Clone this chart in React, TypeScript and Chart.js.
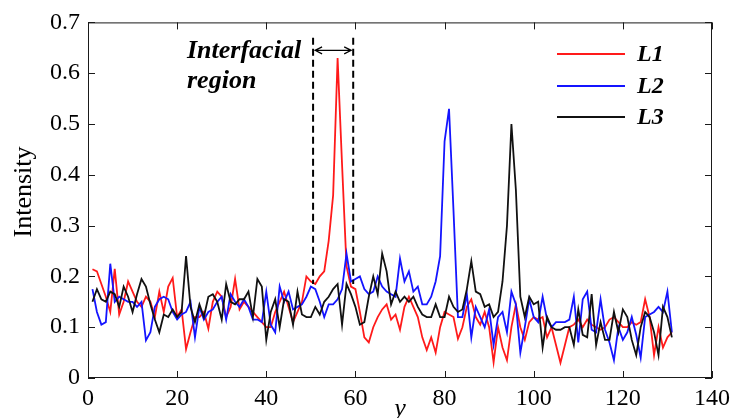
import React, { useEffect, useRef } from "react";
import { Chart, registerables } from "chart.js";

Chart.register(...registerables);

const positions = [
  1, 2, 3, 4, 5, 6, 7, 8, 9, 10, 11, 12, 13, 14, 15, 16, 17, 18, 19, 20,
  21, 22, 23, 24, 25, 26, 27, 28, 29, 30, 31, 32, 33, 34, 35, 36, 37, 38, 39, 40,
  41, 42, 43, 44, 45, 46, 47, 48, 49, 50, 51, 52, 53, 54, 55, 56, 57, 58, 59, 60,
  61, 62, 63, 64, 65, 66, 67, 68, 69, 70, 71, 72, 73, 74, 75, 76, 77, 78, 79, 80,
  81, 82, 83, 84, 85, 86, 87, 88, 89, 90, 91, 92, 93, 94, 95, 96, 97, 98, 99, 100,
  101, 102, 103, 104, 105, 106, 107, 108, 109, 110, 111, 112, 113, 114, 115, 116, 117, 118, 119, 120,
  121, 122, 123, 124, 125, 126, 127, 128, 129, 130, 131,
];

const L1 = [
  0.214, 0.21, 0.185, 0.16, 0.13, 0.215, 0.125, 0.15, 0.19, 0.17,
  0.15, 0.14, 0.16, 0.15, 0.12, 0.17, 0.13, 0.18, 0.197, 0.12,
  0.135, 0.057, 0.09, 0.12, 0.12, 0.13, 0.097, 0.15, 0.17, 0.16,
  0.12, 0.14, 0.195, 0.135, 0.15, 0.14, 0.13, 0.12, 0.11, 0.1,
  0.1, 0.13, 0.15, 0.17, 0.14, 0.11, 0.13, 0.15, 0.2, 0.19,
  0.185, 0.2, 0.21, 0.27, 0.36, 0.63, 0.42, 0.22, 0.18, 0.175,
  0.13, 0.08, 0.07, 0.1, 0.12, 0.135, 0.145, 0.115, 0.125, 0.095,
  0.14, 0.16, 0.14, 0.12, 0.08, 0.055, 0.08, 0.05, 0.1, 0.13,
  0.125, 0.12, 0.077, 0.1, 0.14, 0.155, 0.12, 0.105, 0.13, 0.1,
  0.031, 0.1, 0.06, 0.035, 0.1, 0.145, 0.1, 0.075, 0.11, 0.12,
  0.115, 0.12, 0.08, 0.1, 0.065, 0.03, 0.065, 0.1, 0.105, 0.115,
  0.1, 0.115, 0.105, 0.1, 0.095, 0.1, 0.115, 0.12, 0.11, 0.1,
  0.1, 0.11, 0.105, 0.11, 0.155, 0.12, 0.045, 0.1, 0.06, 0.08, 0.09,
];

const L2 = [
  0.175, 0.13, 0.105, 0.11, 0.225, 0.15, 0.16, 0.155, 0.15, 0.15,
  0.14, 0.15, 0.074, 0.09, 0.14, 0.155, 0.16, 0.155, 0.13, 0.115,
  0.125, 0.13, 0.15, 0.08, 0.14, 0.115, 0.13, 0.135, 0.15, 0.16,
  0.115, 0.165, 0.15, 0.14, 0.155, 0.14, 0.115, 0.115, 0.11, 0.17,
  0.105, 0.09, 0.18, 0.15, 0.17, 0.135, 0.14, 0.145, 0.16, 0.18,
  0.175, 0.15, 0.12, 0.145, 0.145, 0.155, 0.175, 0.245, 0.19, 0.195,
  0.2, 0.175, 0.165, 0.17, 0.2, 0.18, 0.17, 0.165, 0.16, 0.235,
  0.19, 0.21, 0.17, 0.18, 0.145, 0.145, 0.16, 0.19, 0.24, 0.466,
  0.53, 0.33, 0.12, 0.12, 0.165, 0.08, 0.14, 0.12, 0.1, 0.135,
  0.065, 0.12, 0.13, 0.09, 0.17, 0.145, 0.05, 0.1, 0.155, 0.12,
  0.11, 0.16, 0.115, 0.1, 0.11, 0.11, 0.11, 0.115, 0.16, 0.07,
  0.155, 0.17, 0.095, 0.09, 0.155, 0.095, 0.07, 0.035, 0.1, 0.075,
  0.09, 0.12, 0.085, 0.04, 0.12, 0.125, 0.13, 0.14, 0.13, 0.17, 0.09,
];

const L3 = [
  0.15, 0.175, 0.155, 0.15, 0.17, 0.165, 0.14, 0.18, 0.16, 0.13,
  0.165, 0.195, 0.18, 0.145, 0.115, 0.09, 0.125, 0.12, 0.135, 0.12,
  0.13, 0.24, 0.14, 0.11, 0.145, 0.12, 0.16, 0.165, 0.15, 0.115,
  0.185, 0.15, 0.145, 0.155, 0.155, 0.17, 0.12, 0.195, 0.18, 0.075,
  0.13, 0.155, 0.1, 0.155, 0.15, 0.105, 0.17, 0.125, 0.12, 0.12,
  0.14, 0.125, 0.15, 0.16, 0.175, 0.185, 0.105, 0.185, 0.165, 0.14,
  0.105, 0.11, 0.16, 0.2, 0.165, 0.245, 0.21, 0.145, 0.17, 0.15,
  0.16, 0.15, 0.16, 0.14, 0.125, 0.12, 0.12, 0.145, 0.12, 0.12,
  0.16, 0.14, 0.13, 0.135, 0.175, 0.23, 0.17, 0.165, 0.14, 0.145,
  0.12, 0.13, 0.19, 0.3, 0.5, 0.37, 0.16, 0.12, 0.16, 0.145,
  0.15, 0.06, 0.12, 0.1, 0.095, 0.095, 0.1, 0.1, 0.065, 0.135,
  0.085, 0.08, 0.165, 0.065, 0.11, 0.075, 0.075, 0.13, 0.09, 0.135,
  0.12, 0.075, 0.045, 0.1, 0.13, 0.12, 0.09, 0.045, 0.14, 0.12, 0.08,
];

const seriesNames = ["L1", "L2", "L3"];
const seriesColors = ["#ff1a1a", "#1414ff", "#111111"];

const regionBounds = [50.5, 59.5];
const regionTop = 0.67;
const regionBottom = 0.185;
const arrowLevel = 0.645;
const regionLabel = ["Interfacial", "region"];

const xTitle = "y";
const yTitle = "Intensity";

const SERIF = '"Liberation Serif"';

const overlayPlugin = {
  id: "overlay",
  afterDraw(chart: any) {
    const { ctx, chartArea: a, scales } = chart;
    const x = scales.x;
    const y = scales.y;
    ctx.save();

    // frame
    ctx.strokeStyle = "#1a1a1a";
    ctx.lineWidth = 1;
    ctx.setLineDash([]);
    ctx.strokeRect(a.left + 0.5, a.top + 0.5, a.right - a.left - 1, a.bottom - a.top - 1);

    // inward ticks
    const tl = 7;
    ctx.beginPath();
    x.ticks.forEach((t: any) => {
      const px = Math.round(x.getPixelForValue(t.value)) + 0.5;
      ctx.moveTo(px, a.bottom);
      ctx.lineTo(px, a.bottom - tl);
      ctx.moveTo(px, a.top);
      ctx.lineTo(px, a.top + tl);
    });
    y.ticks.forEach((t: any) => {
      const py = Math.round(y.getPixelForValue(t.value)) + 0.5;
      ctx.moveTo(a.left, py);
      ctx.lineTo(a.left + tl, py);
      ctx.moveTo(a.right, py);
      ctx.lineTo(a.right - tl, py);
    });
    ctx.stroke();

    // dashed region bounds
    ctx.strokeStyle = "#000";
    ctx.lineWidth = 2;
    ctx.setLineDash([7, 4]);
    const xl = x.getPixelForValue(regionBounds[0]);
    const xr = x.getPixelForValue(regionBounds[1]);
    const yt = y.getPixelForValue(regionTop);
    const yb = y.getPixelForValue(regionBottom);
    ctx.beginPath();
    ctx.moveTo(xl, yt);
    ctx.lineTo(xl, yb);
    ctx.moveTo(xr, yt);
    ctx.lineTo(xr, yb);
    ctx.stroke();

    // double arrow
    ctx.setLineDash([]);
    ctx.lineWidth = 1.2;
    const ya = y.getPixelForValue(arrowLevel);
    const x1 = xl + 2;
    const x2 = xr - 2;
    ctx.beginPath();
    ctx.moveTo(x1, ya);
    ctx.lineTo(x2, ya);
    ctx.moveTo(x1 + 7, ya - 3.5);
    ctx.lineTo(x1, ya);
    ctx.lineTo(x1 + 7, ya + 3.5);
    ctx.moveTo(x2 - 7, ya - 3.5);
    ctx.lineTo(x2, ya);
    ctx.lineTo(x2 - 7, ya + 3.5);
    ctx.stroke();

    // annotation text
    ctx.fillStyle = "#000";
    ctx.font = `italic bold 26px ${SERIF}`;
    ctx.textAlign = "left";
    ctx.textBaseline = "alphabetic";
    ctx.fillText(regionLabel[0], 187, 58);
    ctx.fillText(regionLabel[1], 187, 88);

    // legend
    const lx0 = 557;
    const lx1 = 625;
    const ly = [54, 86, 117];
    ctx.font = `italic bold 24px ${SERIF}`;
    ctx.textBaseline = "middle";
    seriesNames.forEach((name, i) => {
      ctx.strokeStyle = seriesColors[i];
      ctx.lineWidth = 2;
      ctx.beginPath();
      ctx.moveTo(lx0, ly[i]);
      ctx.lineTo(lx1, ly[i]);
      ctx.stroke();
      ctx.fillStyle = "#000";
      ctx.fillText(name, 637, ly[i] + 1);
    });

    // axis titles
    ctx.fillStyle = "#000";
    ctx.font = `26px ${SERIF}`;
    ctx.textAlign = "center";
    ctx.textBaseline = "middle";
    ctx.save();
    ctx.translate(24, 192);
    ctx.rotate(-Math.PI / 2);
    ctx.fillText(yTitle, 0, 0);
    ctx.restore();

    ctx.font = `italic 26px ${SERIF}`;
    ctx.textBaseline = "alphabetic";
    ctx.fillText(xTitle, (a.left + a.right) / 2, 416);

    ctx.restore();
  },
};

export default function App() {
  const ref = useRef<HTMLCanvasElement | null>(null);

  useEffect(() => {
    document.body.style.margin = "0";
    const canvas = ref.current;
    if (!canvas) return;
    let chart: Chart | null = null;
    let cancelled = false;
    const seriesData = [L1, L2, L3];

    const build = () => {
      if (cancelled) return;
      chart = new Chart(canvas, {
        type: "line",
        data: {
          labels: positions,
          datasets: seriesNames.map((name, i) => ({
            label: name,
            data: seriesData[i],
            borderColor: seriesColors[i],
            backgroundColor: seriesColors[i],
            borderWidth: 1.8,
            pointRadius: 0,
            tension: 0,
            fill: false,
            order: 3 - i,
          })),
        },
        options: {
          animation: false,
          responsive: false,
          layout: { padding: { left: 0, right: 18, top: 21, bottom: 0 } },
          plugins: {
            legend: { display: false },
            tooltip: { enabled: false },
            title: { display: false },
          },
          scales: {
            x: {
              type: "linear",
              min: 0,
              max: 140,
              ticks: {
                stepSize: 20,
                color: "#000",
                padding: 6,
                font: { family: SERIF, size: 24 },
                maxRotation: 0,
              },
              grid: { display: false, drawTicks: false },
              border: { display: false },
              afterFit: (s: any) => {
                s.height = 40;
              },
            },
            y: {
              type: "linear",
              min: 0,
              max: 0.7,
              ticks: {
                stepSize: 0.1,
                color: "#000",
                padding: 8,
                font: { family: SERIF, size: 24 },
              },
              grid: { display: false, drawTicks: false },
              border: { display: false },
              afterFit: (s: any) => {
                s.width = 88;
              },
            },
          },
        },
        plugins: [overlayPlugin],
      });
    };

    const fontsApi: any = (document as any).fonts;
    if (fontsApi && fontsApi.load) {
      Promise.all([
        fontsApi.load(`24px ${SERIF}`),
        fontsApi.load(`26px ${SERIF}`),
        fontsApi.load(`italic 26px ${SERIF}`),
        fontsApi.load(`italic bold 26px ${SERIF}`),
      ])
        .catch(() => undefined)
        .then(build);
    } else {
      build();
    }

    return () => {
      cancelled = true;
      if (chart) chart.destroy();
    };
  }, []);

  return (
    <div style={{ position: "absolute", left: 0, top: 0, width: 736, height: 418, background: "#fff" }}>
      <canvas ref={ref} width={736} height={418} style={{ display: "block" }} />
    </div>
  );
}
